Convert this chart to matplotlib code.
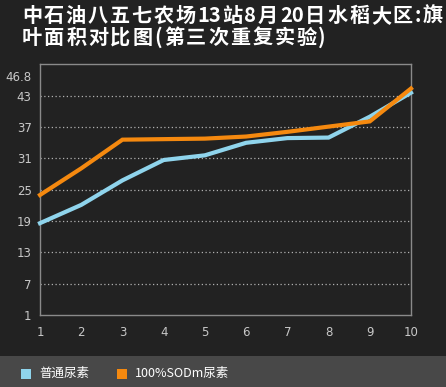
import re
import matplotlib
matplotlib.use("Agg")
import matplotlib.pyplot as plt
from matplotlib.patches import Rectangle

plt.rcParams['font.family'] = ['Noto Sans CJK SC', 'DejaVu Sans']

title_lines = ["中石油八五七农场13站8月20日水稻大区:旗", "叶面积对比图(第三次重复实验)"]
x_days = [1, 2, 3, 4, 5, 6, 7, 8, 9, 10]
series_names = ["普通尿素", "100%SODm尿素"]
urea = [18.6, 22.1, 26.8, 30.7, 31.6, 34.0, 34.9, 35.0, 39.0, 43.6]
sodm = [24.0, 29.1, 34.6, 34.7, 34.8, 35.2, 36.1, 37.1, 38.1, 44.4]
y_ticks = [1, 7, 13, 19, 25, 31, 37, 43, 46.8]
y_grid = [7, 13, 19, 25, 31, 37, 43]
colors = ["#8fd4ec", "#f5890f"]

W, H = 446, 387
fig = plt.figure(figsize=(W / 100, H / 100), dpi=100, facecolor="#222222")
renderer = fig.canvas.get_renderer()

# legend band
fig.patches.append(Rectangle((0, 0), 1, (H - 355.5) / H, transform=fig.transFigure,
                             facecolor="#484848", edgecolor="none", zorder=0))

ax = fig.add_axes([40 / W, (H - 315) / H, 371 / W, 251 / H])
ax.set_facecolor("#222222")
ax.plot(x_days, urea, color=colors[0], lw=3.0, solid_joinstyle="miter", zorder=3, clip_on=False)
ax.plot(x_days, sodm, color=colors[1], lw=3.0, solid_joinstyle="miter", zorder=4, clip_on=False)

ax.set_xlim(1, 10)
ax.set_ylim(1, 49.1)
ax.set_xticks(x_days)
ax.set_xticklabels([str(v) for v in x_days])
ax.set_yticks(y_ticks)
ax.set_yticklabels(["46.8" if v == 46.8 else str(v) for v in y_ticks])
for g in y_grid:
    ax.axhline(g, color="#b0b0b0", lw=0.9, ls=(0, (1, 2)), zorder=1)
ax.tick_params(axis="both", length=0, colors="#c8c8c8", labelsize=8.5,
               labelfontfamily="DejaVu Sans")
ax.tick_params(axis="y", pad=6)
ax.tick_params(axis="x", pad=8)
for s in ax.spines.values():
    s.set_color("#8a8a8a")
    s.set_linewidth(1.0)


def spaced_text(text, x0_px, x1_px, y_px, fontsize):
    """Draw text token by token (digit runs kept together), spanning x0_px..x1_px."""
    tokens = re.findall(r"[0-9]+|.", text)
    widths = []
    for tk in tokens:
        t = fig.text(0, 0, tk, fontsize=fontsize, fontweight="bold")
        widths.append(t.get_window_extent(renderer).width)
        t.remove()
    gap = (x1_px - x0_px - sum(widths)) / max(len(tokens) - 1, 1)
    x = x0_px
    for tk, w in zip(tokens, widths):
        fig.text(x / W, 1 - y_px / H, tk, color="white", fontsize=fontsize,
                 fontweight="bold", va="center", ha="left")
        x += w + gap


spaced_text(title_lines[0], 22, 443, 15.5, 14.5)
spaced_text(title_lines[1], 22, 326, 37.5, 14.5)

# legend
leg_x = [21, 117]
for i, name in enumerate(series_names):
    fig.patches.append(Rectangle((leg_x[i] / W, (H - 379) / H), 10 / W, 10 / H,
                                 transform=fig.transFigure, facecolor=colors[i],
                                 edgecolor="none"))
    fig.text((leg_x[i] + 18) / W, 1 - 373.5 / H, name, color="white", fontsize=9,
             va="center", ha="left")

fig.savefig("out.png", dpi=100, facecolor=fig.get_facecolor())
